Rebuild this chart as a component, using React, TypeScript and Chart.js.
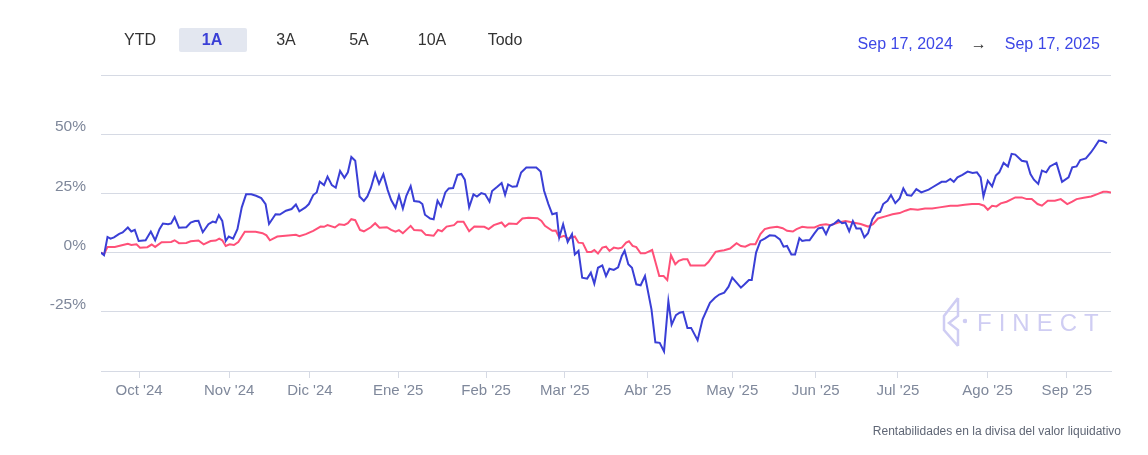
import React, { useEffect, useRef } from "react";
import { Chart, registerables } from "chart.js";
Chart.register(...registerables);

// trading-day index (0 = Sep 17, 2024) and return %
const fundDays = [0,0.7,1.5,2.2,3,4.2,5,6.2,7,7.8,8.7,10.3,11.5,12.5,13.5,14.3,15.5,16.2,17,18,19.7,20.7,21.7,22.5,23.5,24.8,25.8,26.5,27.2,28,28.8,29.5,30.5,31.5,32.5,33.5,34.7,35.8,37,38,38.8,40.3,41.3,42.7,44,45,45.8,47.2,48,49,49.8,50.5,51.5,52.3,53.3,54.2,55.2,56.2,57,57.8,58.7,59.7,60.7,61.5,62.3,63.3,64.2,65.2,66.2,67,68,68.8,69.7,70.5,71.5,72.3,73.5,74.2,74.8,76,76.8,77.7,78.5,79.5,80.3,81.3,82.3,83.2,84,85,86,86.8,87.8,88.7,89.7,90.3,91.5,92.5,93.3,94,95,96,97,98.2,99.2,100.5,101.5,102.3,103.3,104.2,105.2,105.8,106.7,107.75,108.75,109.4,110.25,111.1,112.25,113.1,113.9,114.75,115.75,116.6,117.4,118.4,119.4,120.25,120.9,121.75,122.6,123.6,124.6,125.6,127.1,128,129,130,131,131.75,132.75,133.6,134.4,135.4,136.25,137.75,138.9,140.6,141.75,142.75,143.9,144.9,145.75,146.75,147.75,148.6,149.6,150.25,151.25,152.25,153.25,154.4,155.6,156.75,157.6,158.4,159.4,160.25,161.25,161.9,162.75,163.6,164.6,165.6,166.6,167.4,168.25,169.1,170.25,171.1,171.9,172.75,173.6,174.4,175.4,176.25,177.1,178.1,179,179.9,180.6,181.6,182.4,183.4,184.4,185.25,186.1,187.1,188.25,189.4,191.1,191.9,194.1,195.1,196.1,196.9,197.75,198.9,200.1,201.25,202.25,203.1,203.75,204.75,205.75,206.6,207.4,208.4,209.4,210.25,211.1,212.6,213.75,214.6,215.4,216.4,217.25,218.25,219.1,220.6,221.9,223.4,224.25,225.25,226.1,227.4,228.6,229.4,230.4,231.4,232.25,233.2];
const fundValues = [0,-1.1,6.6,5.9,6.4,7.9,8.5,10.6,8.9,9.6,4.9,5.2,8.9,5.2,9.9,12.3,12,12.3,15,10.5,10.7,12.7,13.3,13.4,8.6,12,13.1,12.7,15.8,13.4,4.9,6.8,5.9,9.9,19.1,24.6,24.6,24,23,20.5,12.1,16.2,16.1,17.7,18.4,20.3,17.4,19.1,20.5,24.3,25.4,29.9,28.5,32.1,28.5,27.4,34.5,31.6,33.9,40.4,38.8,23.7,21.8,23.7,27.3,33.6,29,33.1,26.4,22.2,18.9,24.2,18.6,24,28.1,21.8,21.5,20.5,16,14.4,14.1,21.9,19.5,25.4,27.1,27.3,32.8,33.2,30.8,19.1,24.6,23.7,25.1,24.6,21.5,26,27.8,29.4,24.4,28.8,27.8,28,33.8,35.9,35.9,35.9,34.2,26.1,20.5,16.2,16.7,6.4,12,4.5,7.8,-0.8,0.7,-10.6,-11,-8.5,-13.1,-6.4,-5.4,-9.9,-6.8,-7.3,-6.2,-1.4,0.8,-4.9,-6.4,-13.4,-13.8,-9.9,-24,-37.9,-38.1,-41.7,-20.5,-30.4,-26.4,-25.4,-25.1,-31.8,-31.8,-37,-28.2,-21.2,-19.1,-17.7,-16.9,-14.4,-10.6,-12.7,-14.8,-13.4,-11.6,-11.6,0,4.9,5.9,7.3,7.1,5.6,2.5,2.8,-0.8,-0.8,6.1,4.9,5.2,5.2,7.8,10.2,10.6,7.8,11.3,12,13.7,12.4,12.7,9,13.3,10.2,10.2,6.4,8.2,14.1,16.7,17.2,20.5,21.9,24.3,20.9,22.9,27.1,24.3,24,26.8,25.4,26.6,27.5,29.9,29.9,31.1,29.9,31.8,32.8,34.2,33.6,33.9,31.8,23.7,30.4,28,32.5,33.9,37.9,36.4,41.7,41.4,38.8,38.4,33.2,30.8,29,34.6,33.9,36.4,37.9,29.9,31.8,36,36.4,39.1,39.8,42.4,44.5,47.3,47,46.2];

const indexDays = [0,0.7,1.5,3.2,4.8,6.2,7,8.2,9,10.7,11.7,12.5,14,16.2,17,18,19.7,20.7,22.5,23.7,25.3,26.5,27.3,28,28.8,29.7,30.7,31.7,33.2,35.7,37.3,38.2,39,40.7,43.2,45,45.8,47.3,49,50.7,51.5,52.3,54,55,56.2,57,57.8,58.7,59.8,60.7,62.3,63.3,64.3,66,67,68,68.8,69.7,71.5,72.3,74,75,76.8,77.8,78.7,79.8,81.5,82.3,83.7,85,86.2,88.5,89.5,90.7,92.5,93.3,94.2,96,97.3,98.7,100.8,101.7,102.5,104.2,105,105.8,106.9,107.75,108.75,109.4,110.25,111.25,112.25,113.25,113.9,114.75,115.75,116.6,117.4,118.4,119.4,120.25,121.25,121.9,122.75,123.6,124.6,125.6,127.25,128.25,128.9,129.9,130.75,131.6,132.6,133.4,134.4,135.4,136.1,139.4,140.25,141.9,142.75,143.9,145.25,146.75,147.75,148.75,149.9,151.1,152.25,153.25,154.4,156.1,157.4,158.4,159.75,160.6,161.9,163.1,164.75,166.1,167.4,168.4,170.25,171.9,173.6,175.4,177.1,178.25,179.4,181.1,182.75,184.4,185.75,186.9,188.6,190.25,191.9,193.6,196.1,197.75,199.4,201.1,202.75,203.9,204.75,205.75,206.75,207.75,209.1,211.1,212.6,213.75,214.9,216.25,217.25,218.6,220.25,221.6,223.1,224.25,225.25,226.9,228.6,229.9,231.4,232.25,233.2];
const indexValues = [0,-0.7,2.4,2.4,3.1,3.7,3.2,3.5,2.1,2.3,3.4,2.4,4.4,4.5,5.2,4,4.1,4.8,5.1,3.5,4.9,5.1,5.9,5.2,2.8,3.5,3.2,4.5,8.8,8.8,8.2,7.3,5.2,6.8,7.2,7.5,6.9,7.8,9.2,11,10.9,11.6,10.6,12,11.7,12.4,14.1,13.7,9.6,9,10.7,12.4,10.5,10.7,9.6,8.8,9.5,8.2,11.3,9.5,9.3,7.5,7.1,9.6,9,11,11.6,13,13,9,11,10.9,9.9,11.6,12.7,11,12.3,12.1,14.4,14.7,14.5,13.4,11.3,9.2,9.3,6.4,7.1,5.9,6.4,6.8,4.2,4,0.3,0.3,1.1,-0.4,2.1,2.5,0.7,2.1,1.7,2.1,4.2,4.8,2.8,2.3,-0.3,-0.3,1.1,-5.6,-9.9,-9.9,-11.6,-1.1,-4.9,-3.5,-2.8,-2.8,-5.4,-5.4,-4,0.3,0.7,1,1.7,4,2.8,2.5,3.5,3.5,7.8,9.9,10.5,10.9,10.3,9.2,8.9,9.9,10.9,10.6,10.6,11.7,12,11.6,12.7,13.3,12.7,12.1,11,12,14.4,15.3,16.2,16.7,17.7,18.4,18.1,18.6,18.6,19.1,19.8,19.8,20.2,20.5,20.5,19.8,18.1,19.8,19.5,20.8,21.5,23.3,23.3,22.6,22.6,20.5,19.8,21.9,21.9,22.6,20.5,21.5,22.6,23.2,23.7,24.6,25.7,25.7,25.4];

const monthTickDays = [8.8, 29.6, 48.25, 68.6, 88.9, 107.1, 126.25, 145.75, 165, 184, 204.7, 223];
const monthLabels = ["Oct '24","Nov '24","Dic '24","Ene '25","Feb '25","Mar '25","Abr '25","May '25","Jun '25","Jul '25","Ago '25","Sep '25"];
const yTicks = [-50, -25, 0, 25, 50, 75];
const periods = ["YTD", "1A", "3A", "5A", "10A", "Todo"];

const toPts = (d: number[], v: number[]) => d.map((x, i) => ({ x, y: v[i] }));

export default function App() {
  const ref = useRef<HTMLCanvasElement>(null);
  useEffect(() => {
    const grid = "#d6dae4";
    const lab = "#7f889b";
    const chart = new Chart(ref.current!, {
      type: "line",
      data: {
        datasets: [
          { data: toPts(fundDays, fundValues), borderColor: "#3a3fd6", borderWidth: 2, pointRadius: 0, tension: 0 },
          { data: toPts(indexDays, indexValues), borderColor: "#ff5078", borderWidth: 2, pointRadius: 0, tension: 0 },
        ],
      },
      options: {
        animation: false,
        responsive: false,
        maintainAspectRatio: false,
        layout: { padding: { top: 75, right: 37, left: 0, bottom: 0 } },
        plugins: { legend: { display: false }, tooltip: { enabled: false } },
        scales: {
          x: {
            type: "linear",
            min: 0,
            max: 233.2,
            afterBuildTicks: (s: any) => { s.ticks = monthTickDays.map((v) => ({ value: v })); },
            afterFit: (s: any) => { s.height = 84; },
            ticks: {
              autoSkip: false, maxRotation: 0, color: lab, font: { family: "Arial, Liberation Sans", size: 15 }, padding: 4,
              callback: (v: any) => { const i = monthTickDays.indexOf(Number(v)); return i >= 0 ? monthLabels[i] : ""; },
            },
            grid: { drawOnChartArea: false, drawTicks: true, tickLength: 7, color: grid },
            border: { display: true, color: grid },
          },
          y: {
            min: -50, max: 75,
            afterBuildTicks: (s: any) => { s.ticks = yTicks.map((v) => ({ value: v })); },
            afterFit: (s: any) => { s.width = 101; },
            ticks: {
              color: lab, font: { family: "Arial, Liberation Sans", size: 15.5 }, padding: 15, labelOffset: -7,
              callback: (v: any) => (v === 75 || v === -50 ? "" : v + "%"),
            },
            grid: { color: grid, drawTicks: false },
            border: { display: false },
          },
        },
      },
    });
    return () => chart.destroy();
  }, []);

  const font = "Arial, 'Liberation Sans', sans-serif";
  const btnX = [140, 212, 286, 359, 432, 505];
  return (
    <div style={{ position: "absolute", left: 0, top: 0, width: 1148, height: 455, background: "#fff", fontFamily: font }}>
      <canvas ref={ref} width={1148} height={455} style={{ position: "absolute", left: 0, top: 0 }} />
      <div style={{ position: "absolute", left: 179, top: 28, width: 68, height: 24, background: "#e3e7f0", borderRadius: 2 }} />
      {periods.map((p, i) => (
        <div key={p} style={{ position: "absolute", left: btnX[i] - 40, width: 80, top: 31, textAlign: "center", fontSize: 16, color: i === 1 ? "#3a3fd6" : "#333", fontWeight: i === 1 ? "bold" : "normal" }}>{p}</div>
      ))}
      <div style={{ position: "absolute", right: 48, top: 35, fontSize: 16, color: "#3d47e6", whiteSpace: "pre" }}>
        {"Sep 17, 2024"}<span style={{ color: "#333", margin: "0 18px" }}>→</span>{"Sep 17, 2025"}
      </div>
      <div style={{ position: "absolute", left: 941, top: 296 }}>
        <svg width="26" height="52" viewBox="0 0 26 52">
          <path d="M17 2 L3 20 L3 34 L17 50 M17 2 L17 20 L8 27 L17 34 L17 50" fill="none" stroke="#cfcdf3" strokeWidth="2.5" />
          <circle cx="24" cy="25" r="2.3" fill="#cfcdf3" />
        </svg>
      </div>
      <div style={{ position: "absolute", left: 977, top: 309, fontSize: 24, letterSpacing: 7, color: "#cfcdf3" }}>FINECT</div>
      <div style={{ position: "absolute", right: 27, top: 424, fontSize: 12, color: "#5f6675" }}>Rentabilidades en la divisa del valor liquidativo</div>
    </div>
  );
}
